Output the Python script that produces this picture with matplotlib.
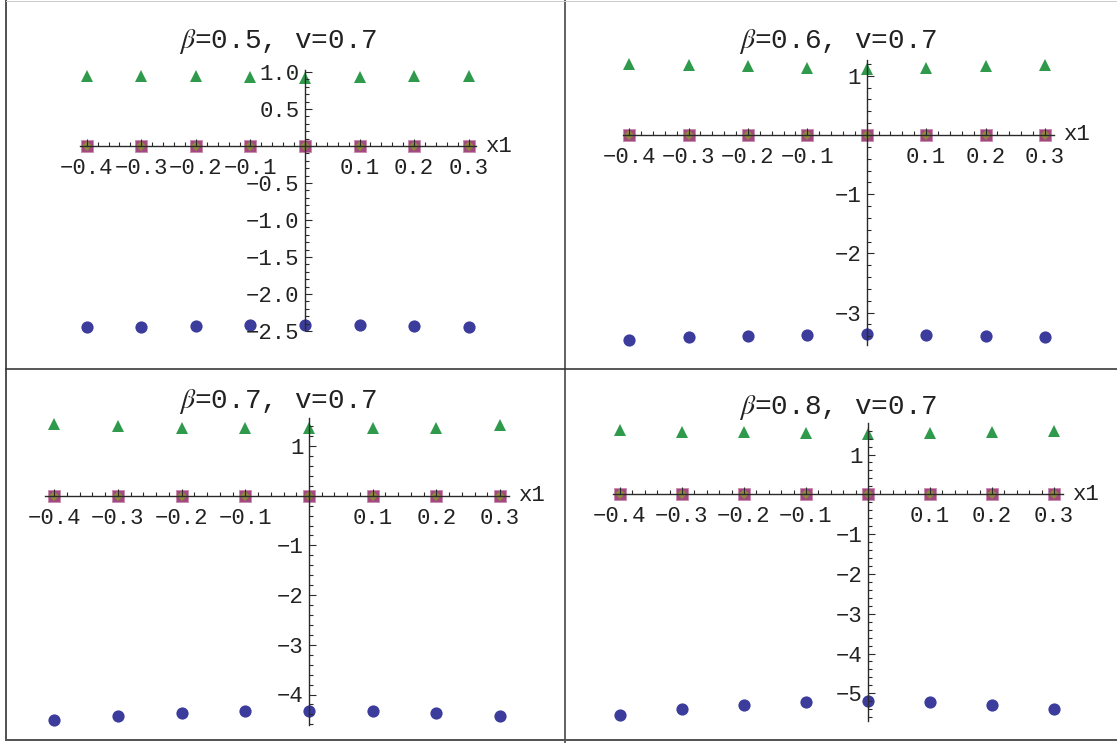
import numpy as np
import matplotlib
matplotlib.use("Agg")
import matplotlib.pyplot as plt
from matplotlib.lines import Line2D
from matplotlib.ticker import FixedLocator, FixedFormatter

plt.rcParams["font.family"] = ["Liberation Mono", "DejaVu Sans Mono"]
plt.rcParams["mathtext.fontset"] = "stix"

# ================= DATA =================

x1_values = [-0.4, -0.3, -0.2, -0.1, 0.0, 0.1, 0.2, 0.3]
beta_values = [0.5, 0.6, 0.7, 0.8]
v_value = 0.7

circles_b05 = [-2.45, -2.44, -2.43, -2.42, -2.42, -2.42, -2.43, -2.44]
circles_b06 = [-3.46, -3.42, -3.40, -3.38, -3.36, -3.38, -3.40, -3.42]
circles_b07 = [-4.52, -4.44, -4.37, -4.33, -4.33, -4.33, -4.37, -4.43]
circles_b08 = [-5.54, -5.39, -5.29, -5.21, -5.19, -5.21, -5.29, -5.39]

triangles_b05 = [0.95, 0.95, 0.94, 0.93, 0.92, 0.93, 0.94, 0.95]
triangles_b06 = [1.20, 1.18, 1.16, 1.14, 1.12, 1.14, 1.16, 1.18]
triangles_b07 = [1.44, 1.40, 1.37, 1.37, 1.36, 1.37, 1.37, 1.42]
triangles_b08 = [1.62, 1.57, 1.56, 1.53, 1.51, 1.53, 1.56, 1.59]

squares_all = [0, 0, 0, 0, 0, 0, 0, 0]
diamonds_all = [0, 0, 0, 0, 0, 0, 0, 0]

circles = [circles_b05, circles_b06, circles_b07, circles_b08]
triangles = [triangles_b05, triangles_b06, triangles_b07, triangles_b08]

x_tick_values = [-0.4, -0.3, -0.2, -0.1, 0.1, 0.2, 0.3]
x_tick_labels = ["\u22120.4", "\u22120.3", "\u22120.2", "\u22120.1", "0.1", "0.2", "0.3"]

y_ticks_b05 = [1.0, 0.5, -0.5, -1.0, -1.5, -2.0, -2.5]
y_labels_b05 = ["1.0", "0.5", "\u22120.5", "\u22121.0", "\u22121.5", "\u22122.0", "\u22122.5"]
y_ticks_b06 = [1, -1, -2, -3]
y_labels_b06 = ["1", "\u22121", "\u22122", "\u22123"]
y_ticks_b07 = [1, -1, -2, -3, -4]
y_labels_b07 = ["1", "\u22121", "\u22122", "\u22123", "\u22124"]
y_ticks_b08 = [1, -1, -2, -3, -4, -5]
y_labels_b08 = ["1", "\u22121", "\u22122", "\u22123", "\u22124", "\u22125"]

y_ticks = [y_ticks_b05, y_ticks_b06, y_ticks_b07, y_ticks_b08]
y_labels = [y_labels_b05, y_labels_b06, y_labels_b07, y_labels_b08]

# ================= LAYOUT (pixels) =================

W, H = 1117, 743

# cell box, pixel of x=0, px per x unit, pixel of y=0, px per y unit,
# axis extents, minor y step, title y
panels = [
    dict(cell=(7, 1, 565, 369), x0=305, xs=545.7, y0=146, ys=74,
         xb=(-0.413, 0.313), yb=(-2.49, 1.03), ymin=0.1, ty=42),
    dict(cell=(567, 1, 1117, 369), x0=866.7, xs=594, y0=135, ys=59.2,
         xb=(-0.411, 0.316), yb=(-3.55, 1.27), ymin=0.2, ty=42),
    dict(cell=(7, 371, 565, 739), x0=309, xs=637, y0=495.7, ys=49.7,
         xb=(-0.415, 0.314), yb=(-4.62, 1.56), ymin=0.2, ty=402),
    dict(cell=(567, 371, 1117, 739), x0=868, xs=620, y0=494.3, ys=39.8,
         xb=(-0.411, 0.315), yb=(-5.69, 1.78), ymin=0.2, ty=407),
]

CIRCLE_COLOR = "#3c3c9c"
TRIANGLE_COLOR = "#2f9a4c"
SQUARE_COLOR = "#a2497f"
DIAMOND_COLOR = "#8f8a3c"
AXIS_COLOR = "#2a2a2a"


def fx(px):
    return px / W


def fy(py):
    return 1 - py / H


def steps(lo, hi, step):
    start = np.ceil(lo / step - 1e-9) * step
    vals = np.arange(start, hi + 1e-9, step)
    return [round(v, 4) for v in vals]


fig = plt.figure(figsize=(W / 100, H / 100), dpi=100)

# ================= FRAME =================

frame = [
    ((6, 6), (0, 740), "#555555", 2.0),
    ((565.5, 565.5), (0, 743), "#666666", 2.0),
    ((6, 1117), (369.5, 369.5), "#333333", 1.6),
    ((6, 1117), (739.5, 739.5), "#555555", 2.0),
    ((6, 1117), (0.5, 0.5), "#cccccc", 1.0),
]
for xs_, ys_, c, lw in frame:
    fig.add_artist(Line2D([fx(xs_[0]), fx(xs_[1])], [fy(ys_[0]), fy(ys_[1])],
                          transform=fig.transFigure, color=c, lw=lw * 0.72))

# ================= PANELS =================

for i, p in enumerate(panels):
    L, T, R, B = p["cell"]
    ax = fig.add_axes([fx(L), fy(B), fx(R) - fx(L), fy(T) - fy(B)])
    ax.set_xlim((L - p["x0"]) / p["xs"], (R - p["x0"]) / p["xs"])
    ax.set_ylim((p["y0"] - B) / p["ys"], (p["y0"] - T) / p["ys"])
    ax.patch.set_alpha(0)

    ax.plot(x1_values, squares_all, "s", color=SQUARE_COLOR, ms=8,
            mec="#c98aae", mew=0.6, zorder=2, clip_on=False)
    ax.plot(x1_values, diamonds_all, "D", color=DIAMOND_COLOR, ms=5.2,
            mew=0, zorder=2.1, clip_on=False)
    ax.plot(x1_values, triangles[i], "^", color=TRIANGLE_COLOR, ms=8.2,
            mew=0, zorder=2, clip_on=False)
    ax.plot(x1_values, circles[i], "o", color=CIRCLE_COLOR, ms=8.8,
            mew=0, zorder=2, clip_on=False)

    ax.set_axisbelow(False)
    for side in ["top", "right"]:
        ax.spines[side].set_visible(False)
    ax.spines["left"].set_position(("data", 0))
    ax.spines["bottom"].set_position(("data", 0))
    ax.spines["bottom"].set_bounds(*p["xb"])
    ax.spines["left"].set_bounds(*p["yb"])
    for side in ["left", "bottom"]:
        ax.spines[side].set_color(AXIS_COLOR)
        ax.spines[side].set_linewidth(1.0)
        ax.spines[side].set_zorder(3)

    ax.xaxis.set_major_locator(FixedLocator(x_tick_values))
    ax.xaxis.set_major_formatter(FixedFormatter(x_tick_labels))
    ax.xaxis.set_minor_locator(FixedLocator(steps(p["xb"][0], p["xb"][1], 0.02)))
    ax.yaxis.set_major_locator(FixedLocator(y_ticks[i]))
    ax.yaxis.set_major_formatter(FixedFormatter(y_labels[i]))
    ax.yaxis.set_minor_locator(FixedLocator(steps(p["yb"][0], p["yb"][1], p["ymin"])))

    ax.tick_params(which="both", direction="in", color=AXIS_COLOR, width=0.8,
                   labelsize=16, labelcolor="#222222")
    ax.tick_params(which="major", length=5)
    ax.tick_params(which="minor", length=2.8)
    ax.tick_params(axis="x", pad=8.5)
    ax.tick_params(axis="y", pad=4)

    ax.annotate("x1", (p["xb"][1], 0), xytext=(10, 0), textcoords="offset pixels",
                ha="left", va="center", fontsize=16, color="#222222")

    fig.text(fx(L + 271), fy(p["ty"]),
             r"$\beta$=%.1f, v=%.1f" % (beta_values[i], v_value),
             ha="center", va="center", fontsize=20, color="#222222")

fig.savefig("out.png", dpi=100)
